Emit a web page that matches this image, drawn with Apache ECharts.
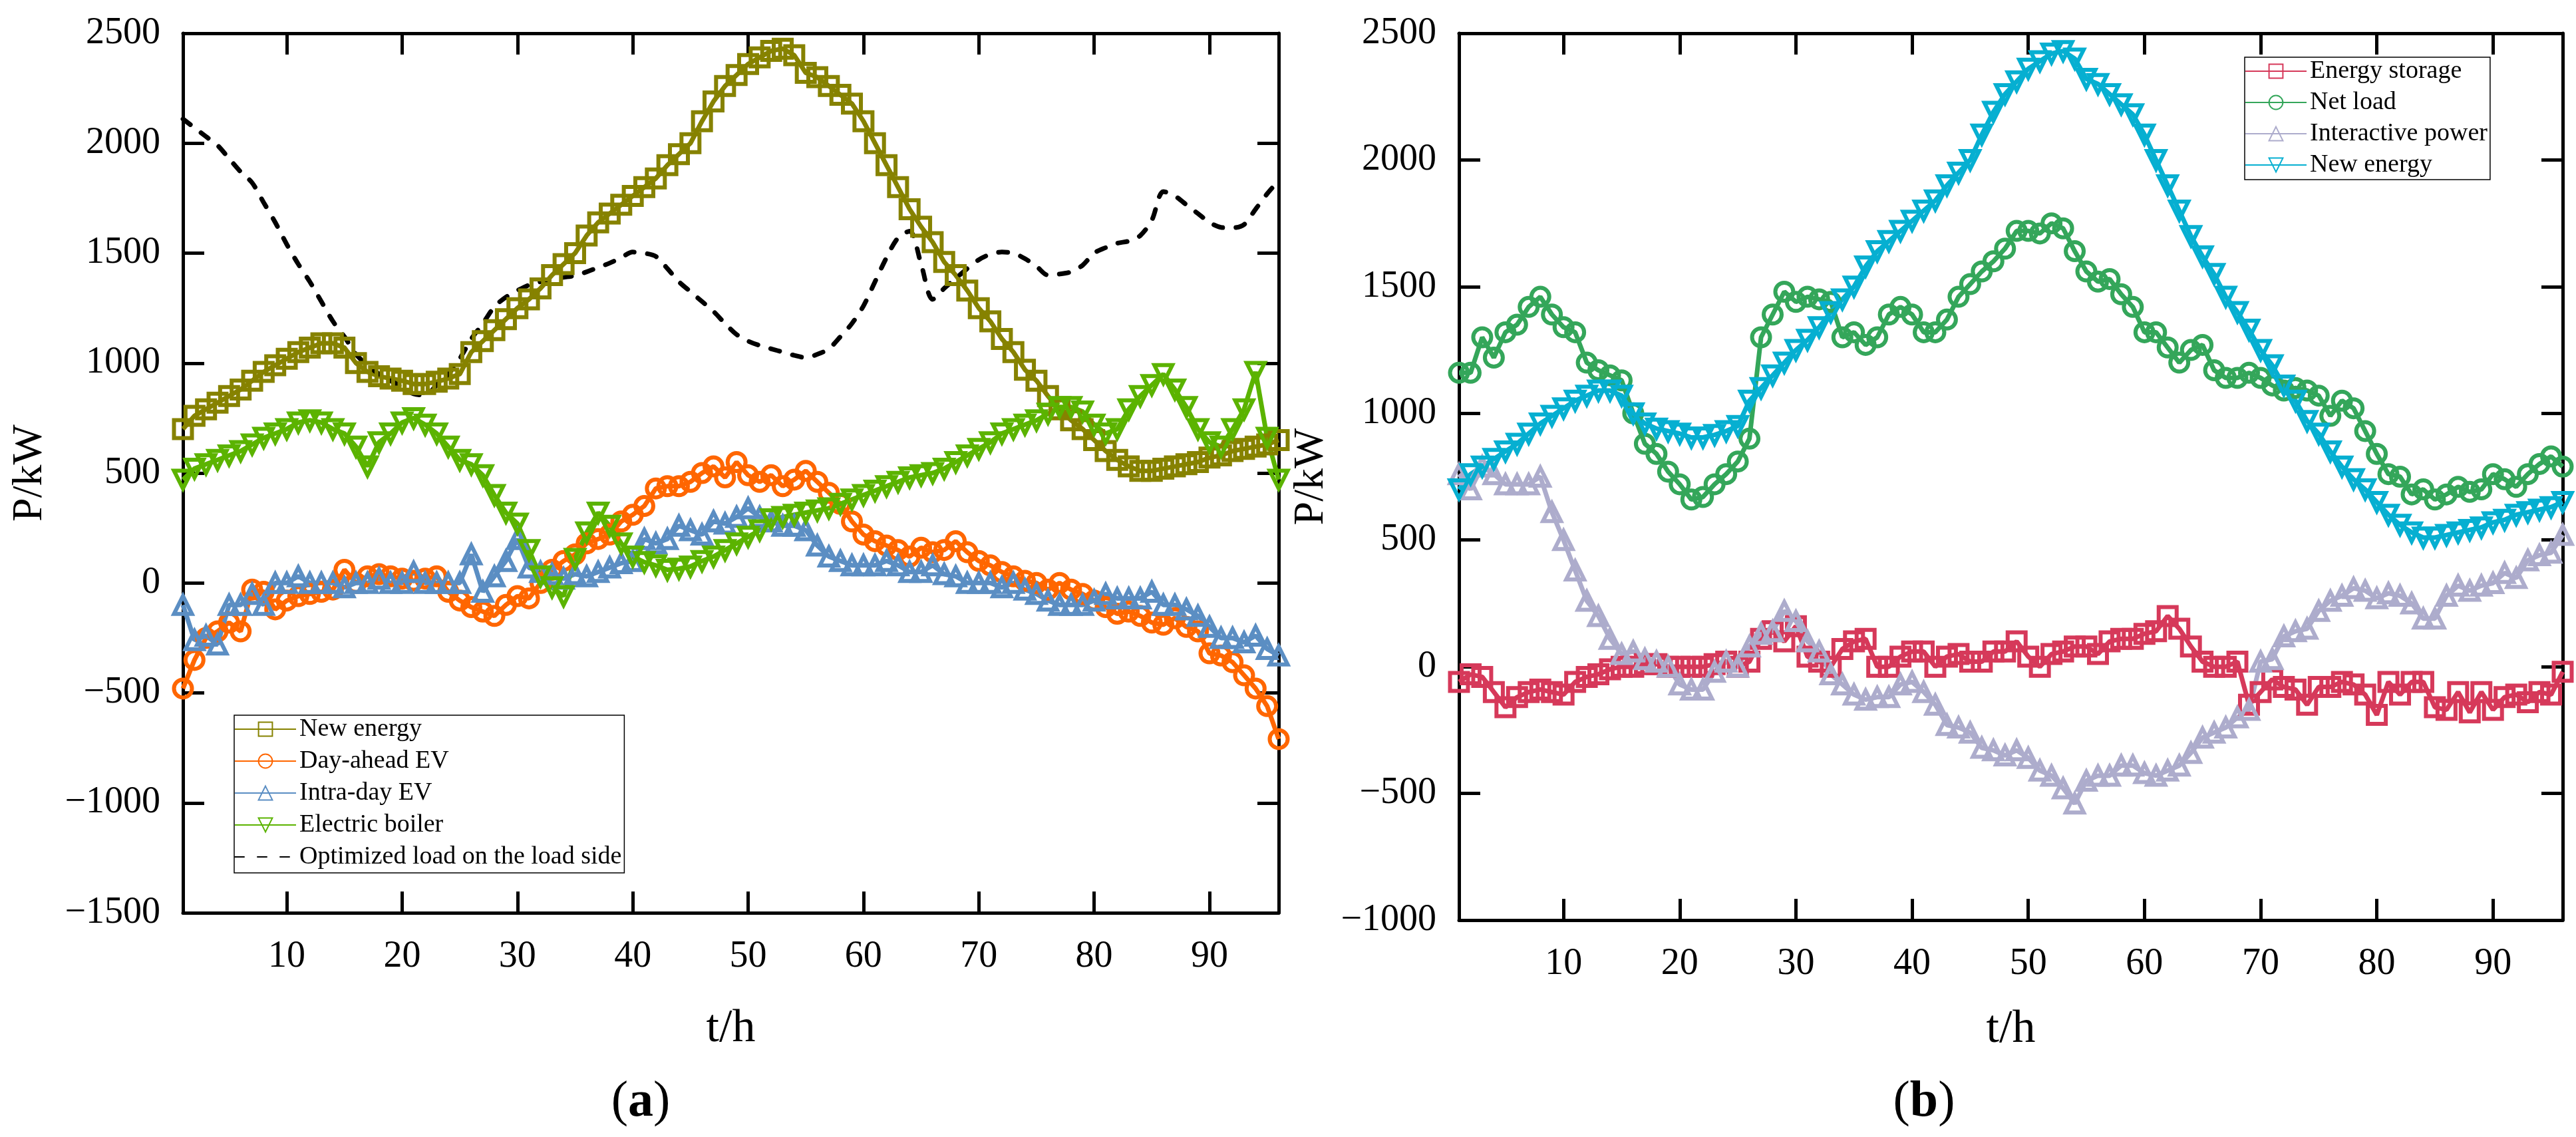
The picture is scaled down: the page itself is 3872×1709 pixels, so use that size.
<!DOCTYPE html>
<html lang="en">
<head>
  <meta charset="UTF-8">
  <title>P/kW — t/h</title>
  <script src="https://cdn.jsdelivr.net/npm/echarts@6.0.0/dist/echarts.min.js"></script>
  <style>
    html, body { margin: 0; padding: 0; background: #fff; }
    #chart { width: 3872px; height: 1709px; }
  </style>
</head>
<body>
<div id="chart"></div>
<script>
  // time axis 1..96
  const hours = Array.from({length: 96}, (_, i) => i + 1)
  const xTicks = [10, 20, 30, 40, 50, 60, 70, 80, 90]

  // (a)
  const newEnergy = [700,760,790,820,850,880,920,960,990,1020,
    1050,1070,1090,1090,1070,1000,960,940,930,920,
    905,905,915,930,950,1050,1100,1150,1200,1250,
    1290,1340,1400,1450,1500,1580,1640,1680,1720,1760,
    1800,1840,1900,1950,2000,2100,2190,2260,2310,2360,
    2390,2420,2430,2400,2320,2300,2260,2220,2180,2100,
    2000,1900,1800,1700,1620,1550,1460,1400,1330,1250,
    1190,1110,1050,970,920,850,790,740,700,650,
    600,560,530,510,510,520,530,540,550,570,
    580,600,610,620,630,650]
  const dayAheadEV = [-480,-350,-250,-220,-180,-220,-30,-40,-120,-80,
    -60,-50,-40,-30,60,0,30,40,30,20,
    10,20,30,-40,-80,-110,-130,-150,-100,-60,
    -70,0,60,100,130,180,200,220,280,310,
    350,430,440,440,460,500,530,480,550,490,
    460,490,440,470,510,460,410,360,280,220,
    190,170,150,120,160,140,150,190,140,100,
    80,50,30,10,0,-30,0,-30,-50,-80,
    -110,-140,-130,-150,-180,-190,-160,-200,-220,-320,
    -330,-360,-420,-480,-560,-710]
  const intraDayEV = [-100,-260,-240,-280,-100,-100,-50,-100,0,0,
    30,0,0,0,-20,0,0,20,0,0,
    50,0,0,0,0,130,-40,30,100,200,
    70,50,40,20,40,30,50,70,90,100,
    200,180,200,260,240,220,280,270,300,340,
    300,280,260,260,240,170,120,100,80,80,
    80,100,80,50,50,80,40,30,0,0,
    0,-20,0,-30,-50,-80,-100,-100,-100,-80,
    -50,-70,-70,-70,-40,-100,-100,-120,-150,-200,
    -250,-250,-270,-240,-300,-330]
  const electricBoiler = [470,520,540,560,580,600,630,660,680,700,
    730,740,730,700,680,620,530,640,680,730,
    750,720,680,620,560,540,490,400,320,270,
    150,30,-20,-60,110,230,320,260,180,120,
    95,80,60,65,75,100,120,150,180,210,
    240,290,300,310,320,330,340,360,380,400,
    420,440,460,480,490,500,520,550,580,610,
    640,680,700,720,740,770,800,800,780,720,
    680,700,790,850,900,950,880,800,700,640,
    620,700,790,960,660,470]
  const optimizedLoad = [2110,2070,2030,1990,1930,1870,1820,1730,1640,1540,
    1450,1370,1280,1190,1120,1040,990,950,920,890,
    860,855,900,950,1020,1110,1180,1256,1300,1330,
    1355,1370,1382,1390,1398,1415,1435,1455,1480,1505,
    1500,1485,1430,1370,1325,1280,1235,1180,1130,1100,
    1080,1065,1050,1035,1025,1040,1065,1120,1180,1260,
    1370,1480,1570,1600,1450,1290,1340,1385,1430,1470,
    1495,1505,1500,1475,1440,1400,1405,1415,1445,1500,
    1525,1545,1555,1580,1650,1780,1760,1720,1680,1640,
    1617,1615,1630,1700,1770,1830]

  // (b)
  const energyStorage = [-60,-30,-40,-100,-160,-120,-100,-90,-100,-110,
    -60,-40,-30,-10,0,0,10,10,0,0,
    0,0,10,20,0,20,110,140,100,160,
    40,20,0,70,100,110,0,0,40,60,
    60,0,40,50,20,20,60,60,100,40,
    0,50,60,80,80,50,100,110,110,130,
    140,200,150,80,20,0,0,20,-150,-100,
    -50,-80,-90,-150,-80,-80,-60,-70,-110,-190,
    -60,-110,-60,-60,-160,-170,-100,-180,-100,-170,
    -120,-110,-140,-100,-110,-20]
  const netLoad = [1160,1160,1300,1220,1320,1350,1420,1460,1390,1340,
    1320,1200,1170,1150,1130,1000,880,840,770,720,
    660,670,720,760,810,900,1300,1390,1480,1440,
    1460,1450,1440,1300,1320,1270,1300,1390,1420,1390,
    1320,1320,1370,1460,1510,1560,1600,1650,1720,1720,
    1710,1750,1730,1640,1560,1520,1530,1470,1420,1320,
    1320,1260,1200,1250,1270,1170,1140,1140,1160,1140,
    1110,1090,1100,1090,1070,990,1050,1020,930,840,
    760,750,680,700,660,680,710,690,700,760,
    740,710,760,800,830,790]
  const interactivePower = [760,700,790,760,720,720,720,750,610,500,
    380,260,200,110,50,60,30,20,0,-70,
    -90,-90,-20,20,0,80,130,140,220,180,
    100,60,-30,-70,-110,-130,-120,-120,-70,-60,
    -100,-150,-230,-240,-260,-320,-330,-350,-330,-360,
    -410,-430,-480,-540,-450,-430,-430,-390,-390,-420,
    -430,-410,-390,-340,-280,-260,-240,-200,-170,20,
    30,120,140,150,220,260,280,310,300,270,
    290,280,250,190,190,280,320,300,320,330,
    370,350,420,440,450,520]

  const FONT = 'Liberation Serif'
  const pairs = arr => hours.map((h, i) => [h, arr[i]])
  const minus = v => String(v).replace('-', '\u2212')

  // bottom axis with labels, top axis only closes the frame
  function xAxes(grid) {
    const tick = () => ({show: true, inside: true, length: 32, customValues: xTicks, lineStyle: {width: 5, color: '#000'}})
    return [
      {
        type: 'value', gridIndex: grid, min: 1, max: 96, position: 'bottom',
        splitLine: {show: false},
        axisLine: {onZero: false, lineStyle: {color: '#000', width: 5}},
        axisTick: tick(),
        name: 't/h', nameLocation: 'middle', nameGap: grid === 0 ? 140 : 130,
        nameTextStyle: {fontFamily: FONT, fontSize: 70, color: '#000'},
        axisLabel: {customValues: xTicks, margin: 38, fontFamily: FONT, fontSize: 56, color: '#000'}
      },
      {
        type: 'value', gridIndex: grid, min: 1, max: 96, position: 'top',
        splitLine: {show: false},
        axisLine: {onZero: false, lineStyle: {color: '#000', width: 5}},
        axisTick: tick(),
        axisLabel: {show: false, customValues: xTicks}
      }
    ]
  }

  function yAxes(grid, min) {
    const tick = () => ({show: true, inside: true, length: 32, lineStyle: {width: 5, color: '#000'}})
    return [
      {
        type: 'value', gridIndex: grid, min: min, max: 2500, interval: 500, position: 'left',
        splitLine: {show: false},
        axisLine: {show: true, onZero: false, lineStyle: {color: '#000', width: 5}},
        axisTick: tick(),
        name: 'P/kW', nameLocation: 'middle', nameRotate: 90,
        nameGap: grid === 0 ? 198 : 190,
        nameTextStyle: {fontFamily: FONT, fontSize: 64, color: '#000'},
        axisLabel: {margin: 34, fontFamily: FONT, fontSize: 56, color: '#000', formatter: minus}
      },
      {
        type: 'value', gridIndex: grid, min: min, max: 2500, interval: 500, position: 'right',
        splitLine: {show: false},
        axisLine: {show: true, onZero: false, lineStyle: {color: '#000', width: 5}},
        axisTick: tick(),
        axisLabel: {show: false}
      }
    ]
  }

  function markLine(name, data, color, symbol, grid, rotate) {
    return {
      name: name, type: 'line', data: pairs(data),
      xAxisIndex: grid * 2, yAxisIndex: grid * 2,
      symbol: symbol, symbolSize: 27, symbolRotate: rotate || 0,
      lineStyle: {color: color, width: 7},
      itemStyle: {color: 'rgba(255,255,255,0)', borderColor: color, borderWidth: 6},
      emphasis: {disabled: true},
      animation: false
    }
  }

  const legendText = {fontFamily: FONT, fontSize: 38, color: '#000', lineHeight: 40}

  const option = {
    backgroundColor: '#fff',
    animation: false,
    title: [
      {text: '({b|a})', left: 958, top: 1652, textAlign: 'center', textVerticalAlign: 'middle',
        textStyle: {fontFamily: FONT, fontSize: 76, fontWeight: 'normal', color: '#000',
          rich: {b: {fontFamily: FONT, fontSize: 76, fontWeight: 'bold', color: '#000'}}}},
      {text: '({b|b})', left: 2887, top: 1652, textAlign: 'center', textVerticalAlign: 'middle',
        textStyle: {fontFamily: FONT, fontSize: 76, fontWeight: 'normal', color: '#000',
          rich: {b: {fontFamily: FONT, fontSize: 76, fontWeight: 'bold', color: '#000'}}}}
    ],
    grid: [
      {left: 275, top: 50, width: 1647, height: 1322},
      {left: 2193, top: 50, width: 1659, height: 1333}
    ],
    xAxis: [...xAxes(0), ...xAxes(1)],
    yAxis: [...yAxes(0, -1500), ...yAxes(1, -1000)],
    legend: [
      {
        data: ['New energy', 'Day-ahead EV', 'Intra-day EV', 'Electric boiler',
          {name: 'Optimized load on the load side', itemStyle: {color: 'rgba(0,0,0,0)', borderWidth: 0, opacity: 0}}],
        orient: 'vertical', left: 352, top: 1075, padding: [1, 4, 4, 0],
        itemWidth: 92, itemHeight: 26, itemGap: 8,
        borderColor: '#000', borderWidth: 1.5,
        textStyle: legendText
      },
      {
        data: ['Energy storage', 'Net load', 'Interactive power', 'New energy '],
        orient: 'vertical', left: 3374, top: 86, padding: [1, 4, 2, 0],
        itemWidth: 92, itemHeight: 26, itemGap: 7,
        borderColor: '#000', borderWidth: 1.5,
        textStyle: legendText
      }
    ],
    series: [
      markLine('New energy', newEnergy, '#868200', 'rect', 0),
      markLine('Day-ahead EV', dayAheadEV, '#ff6600', 'circle', 0),
      markLine('Intra-day EV', intraDayEV, '#5b8ec3', 'triangle', 0),
      markLine('Electric boiler', electricBoiler, '#5bb300', 'triangle', 0, 180),
      {
        name: 'Optimized load on the load side', type: 'line', data: pairs(optimizedLoad),
        xAxisIndex: 0, yAxisIndex: 0, symbol: 'none', smooth: 0.3,
        lineStyle: {color: '#000', width: 7, type: [14, 20], cap: 'round'},
        itemStyle: {color: '#000'},
        emphasis: {disabled: true}
      },
      markLine('Energy storage', energyStorage, '#d6395a', 'rect', 1),
      markLine('Net load', netLoad, '#34a65a', 'circle', 1),
      markLine('Interactive power', interactivePower, '#adaccc', 'triangle', 1),
      markLine('New energy ', newEnergy, '#06afd1', 'triangle', 1, 180)
    ]
  }

  const chart = echarts.init(document.getElementById('chart'))
  chart.setOption(option)
</script>
</body>
</html>
